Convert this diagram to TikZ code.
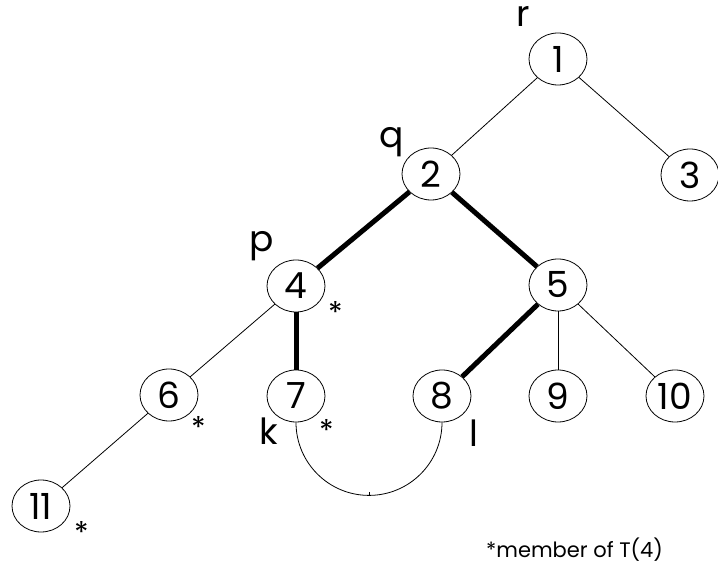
\documentclass[tikz,border=0pt]{standalone}
\usepackage{fontspec}
\setmainfont{Poppins}
\usetikzlibrary{shapes.geometric}
\begin{document}
\begin{tikzpicture}[x=1pt,y=1pt,
  vert/.style={draw, ellipse, line width=0.8pt, minimum width=58pt, minimum height=52pt, inner sep=0pt, font=\fontsize{36}{36}\selectfont},
  lbl/.style={anchor=base, inner sep=0pt, font=\fontsize{36}{36}\selectfont},
  star/.style={anchor=base, inner sep=0pt, font=\fontsize{30}{30}\selectfont},
  thin/.style={line width=0.8pt},
  heavy/.style={line width=5pt}]
\useasboundingbox (0,0) rectangle (718,573);
\node[vert] (n1) at (558,514) {1};
\node[vert] (n2) at (431,399) {2};
\node[vert] (n3) at (690,398) {3};
\node[vert] (n4) at (296,287) {4};
\node[vert] (n5) at (558,288) {5};
\node[vert] (n6) at (169,178) {6};
\node[vert] (n7) at (296,177) {7};
\node[vert] (n8) at (442,177) {8};
\node[vert] (n9) at (558,177) {9};
\node[vert] (n10) at (675,177) {10};
\node[vert] (n11) at (41,67) {11};
\draw[thin] (n1) -- (n2);
\draw[thin] (n1) -- (n3);
\draw[heavy] (n2) -- (n4);
\draw[heavy] (n2) -- (n5);
\draw[thin] (n4) -- (n6);
\draw[heavy] (n4) -- (n7);
\draw[heavy] (n5) -- (n8);
\draw[thin] (n5) -- (n9);
\draw[thin] (n5) -- (n10);
\draw[thin] (n6) -- (n11);
\draw[thin] (n7.south) arc[start angle=180, end angle=360, radius=73];
\coordinate (tick) at (369,78);
\draw[thin] (tick) -- ++(0,3);
\node[lbl] (lr) at (523,546) {r};
\node[lbl] (lq) at (392,425) {q};
\node[lbl] (lp) at (262,321) {p};
\node[lbl] (lk) at (269,128) {k};
\node[lbl] (ll) at (474,126) {l};
\node[star] (s4) at (336,249) {*};
\node[star] (s7) at (327,131) {*};
\node[star] (s6) at (199,134) {*};
\node[star] (s11) at (82,29) {*};
\node[anchor=base west, inner sep=0pt, font=\fontsize{21}{21}\selectfont] (note) at (486,15) {*member of T(4)};
\end{tikzpicture}
\end{document}
